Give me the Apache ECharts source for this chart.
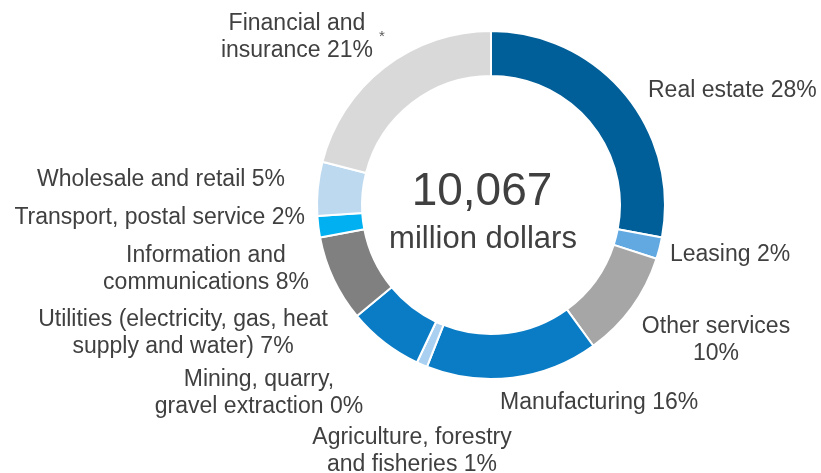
<!DOCTYPE html>
<html>
<head>
<meta charset="utf-8">
<script src="https://cdn.jsdelivr.net/npm/echarts@6/dist/echarts.min.js"></script>
<style>
html,body{margin:0;padding:0;background:#fff;}
#main{width:821px;height:473px;}
</style>
</head>
<body>
<div id="main"></div>
<script>
// 行业分类（顺时针，从12点开始）
var categories = [
    'Real estate 28%',
    'Leasing 2%',
    'Other services\n10%',
    'Manufacturing 16%',
    'Agriculture, forestry\nand fisheries 1%',
    'Mining, quarry,\ngravel extraction 0%',
    'Utilities (electricity, gas, heat\nsupply and water) 7%',
    'Information and\ncommunications 8%',
    'Transport, postal service 2%',
    'Wholesale and retail 5%',
    'Financial and\ninsurance 21%'
];
var shares = [28, 2, 10, 16, 1, 0, 7, 8, 2, 5, 21];
var colors = ['#005f99', '#62a9e1', '#a6a6a6', '#0a7cc5', '#a9d0f0', '#a9d0f0',
    '#0a7cc5', '#808080', '#00b0f0', '#bdd9f0', '#d9d9d9'];
var totalText = '10,067';
var unitText = 'million dollars';

// 标签位置 [x, y, align]
var labelPos = [
    [648, 91, 'left'],
    [670, 255, 'left'],
    [716, 340, 'center'],
    [500, 403, 'left'],
    [412, 451, 'center'],
    [259, 393, 'center'],
    [183, 333, 'center'],
    [206, 269, 'center'],
    [305, 218, 'right'],
    [285, 180, 'right'],
    [297, 37, 'center']
];

var FONT = '"Liberation Sans", Arial, sans-serif';
var myChart = echarts.init(document.getElementById('main'));

var option = {
    backgroundColor: '#fff',
    animation: false,
    graphic: [
        {
            type: 'text', x: 482, y: 192,
            style: {text: totalText, fill: '#404040', font: '46px ' + FONT,
                align: 'center', verticalAlign: 'middle'}
        },
        {
            type: 'text', x: 483, y: 239,
            style: {text: unitText, fill: '#404040', font: '31px ' + FONT,
                align: 'center', verticalAlign: 'middle'}
        },
        {
            type: 'text', x: 382, y: 37,
            style: {text: '*', fill: '#595959', font: '15px ' + FONT,
                align: 'center', verticalAlign: 'middle'}
        }
    ],
    series: [
        {
            type: 'pie',
            center: [491, 205],
            radius: [129, 174],
            startAngle: 90,
            clockwise: true,
            minAngle: 0,
            avoidLabelOverlap: false,
            itemStyle: {
                borderColor: '#fff',
                borderWidth: 2
            },
            label: {
                show: true,
                position: 'outside',
                formatter: '{b}',
                color: '#404040',
                fontSize: 23,
                lineHeight: 27,
                fontFamily: FONT
            },
            labelLine: {show: false},
            labelLayout: function (params) {
                var p = labelPos[params.dataIndex];
                return {
                    x: p[0],
                    y: p[1],
                    align: p[2],
                    verticalAlign: 'middle'
                };
            },
            emphasis: {disabled: true},
            data: categories.map(function (name, i) {
                return {
                    name: name,
                    value: shares[i],
                    itemStyle: {color: colors[i]},
                    label: {align: labelPos[i][2]}
                };
            })
        }
    ]
};

myChart.setOption(option);
</script>
</body>
</html>
